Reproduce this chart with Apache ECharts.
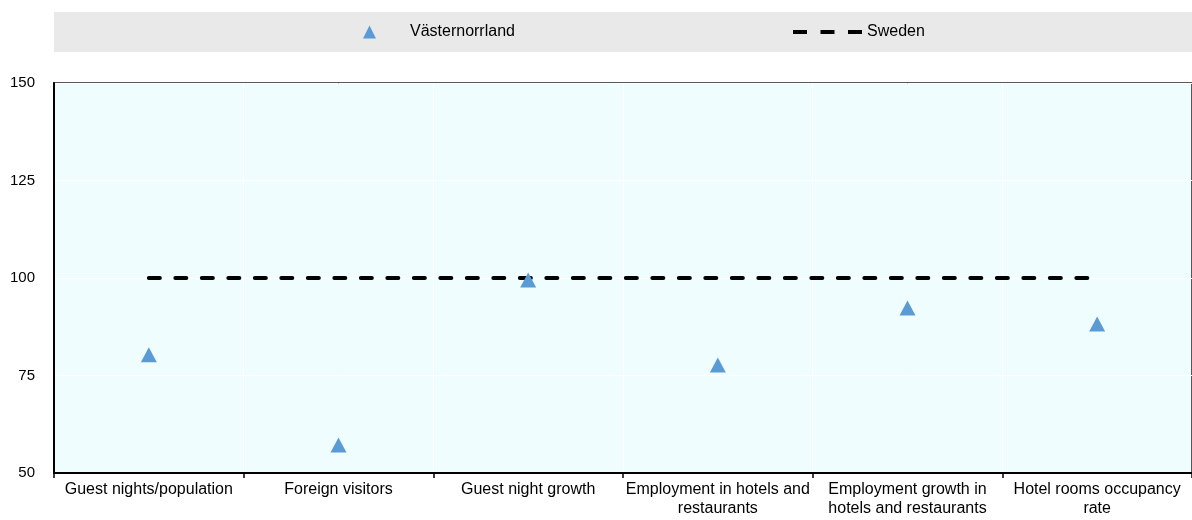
<!DOCTYPE html>
<html><head><meta charset="utf-8">
<script src="https://cdn.jsdelivr.net/npm/echarts@6/dist/echarts.min.js"></script>
<style>html,body{margin:0;padding:0;background:#fff}#c{width:1192px;height:520px}</style>
</head><body><div id="c"></div>
<script>
const categories = ["Guest nights/population","Foreign visitors","Guest night growth","Employment in hotels and\nrestaurants","Employment growth in\nhotels and restaurants","Hotel rooms occupancy\nrate"];
const regionName = "Västernorrland";
const regionValues = [80.3, 57.2, 99.5, 77.7, 92.3, 88.2];
const countryName = "Sweden";
const countryValues = [100, 100, 100, 100, 100, 100];
const yTicks = {min: 50, max: 150, interval: 25};

const chart = echarts.init(document.getElementById('c'), null, {renderer: 'canvas'});
const font = 'Arial, "Liberation Sans", sans-serif';
chart.setOption({
  animation: false,
  textStyle: {fontFamily: font},
  graphic: [{type: 'rect', left: 54, top: 12, shape: {width: 1138, height: 40}, style: {fill: '#e9e9e9'}, z: -1}],
  legend: [
    {left: 363, top: 24, padding: 0, itemWidth: 13, itemHeight: 13, itemStyle: {opacity: 1},
     data: [{name: regionName, icon: 'triangle'}],
     textStyle: {fontSize: 16, color: '#000', fontFamily: font, padding: [0, 0, 0, 29]}},
    {left: 793, top: 24, padding: 0, itemWidth: 69, itemHeight: 4,
     data: [{name: countryName, icon: 'path://M0,0h14v4h-14z M27.5,0h14v4h-14z M55,0h14v4h-14z', itemStyle: {color: '#000'}}],
     textStyle: {fontSize: 16, color: '#000', fontFamily: font}}
  ],
  grid: {left: 54, right: -6, top: 83, bottom: 47, show: true, backgroundColor: '#f0fdff', borderColor: '#222', borderWidth: 1.5},
  xAxis: {
    type: 'category', data: categories, boundaryGap: true,
    axisLine: {lineStyle: {color: '#000', width: 2}},
    axisTick: {show: true, length: 5, lineStyle: {color: '#000', width: 1.5}},
    axisLabel: {fontSize: 16, color: '#000', margin: 7, lineHeight: 19, interval: 0, fontFamily: font},
    splitLine: {show: true, lineStyle: {color: '#ffffff', width: 1}}
  },
  yAxis: {
    type: 'value', min: yTicks.min, max: yTicks.max, interval: yTicks.interval,
    axisLine: {show: true, lineStyle: {color: '#000', width: 2}},
    axisTick: {show: false},
    axisLabel: {fontSize: 15, color: '#000', margin: 19, fontFamily: font},
    splitLine: {show: true, lineStyle: {color: '#ffffff', width: 1}}
  },
  series: [
    {name: regionName, type: 'scatter', data: regionValues, symbol: 'triangle', symbolSize: [16, 15],
     itemStyle: {color: '#5b9bd5', opacity: 1}, z: 3},
    {name: countryName, type: 'line', data: countryValues, symbol: 'none', showSymbol: false,
     lineStyle: {color: '#000', width: 4, type: [11, 15.5], cap: 'round'}, itemStyle: {color: '#000'}, z: 2}
  ]
});
</script></body></html>
